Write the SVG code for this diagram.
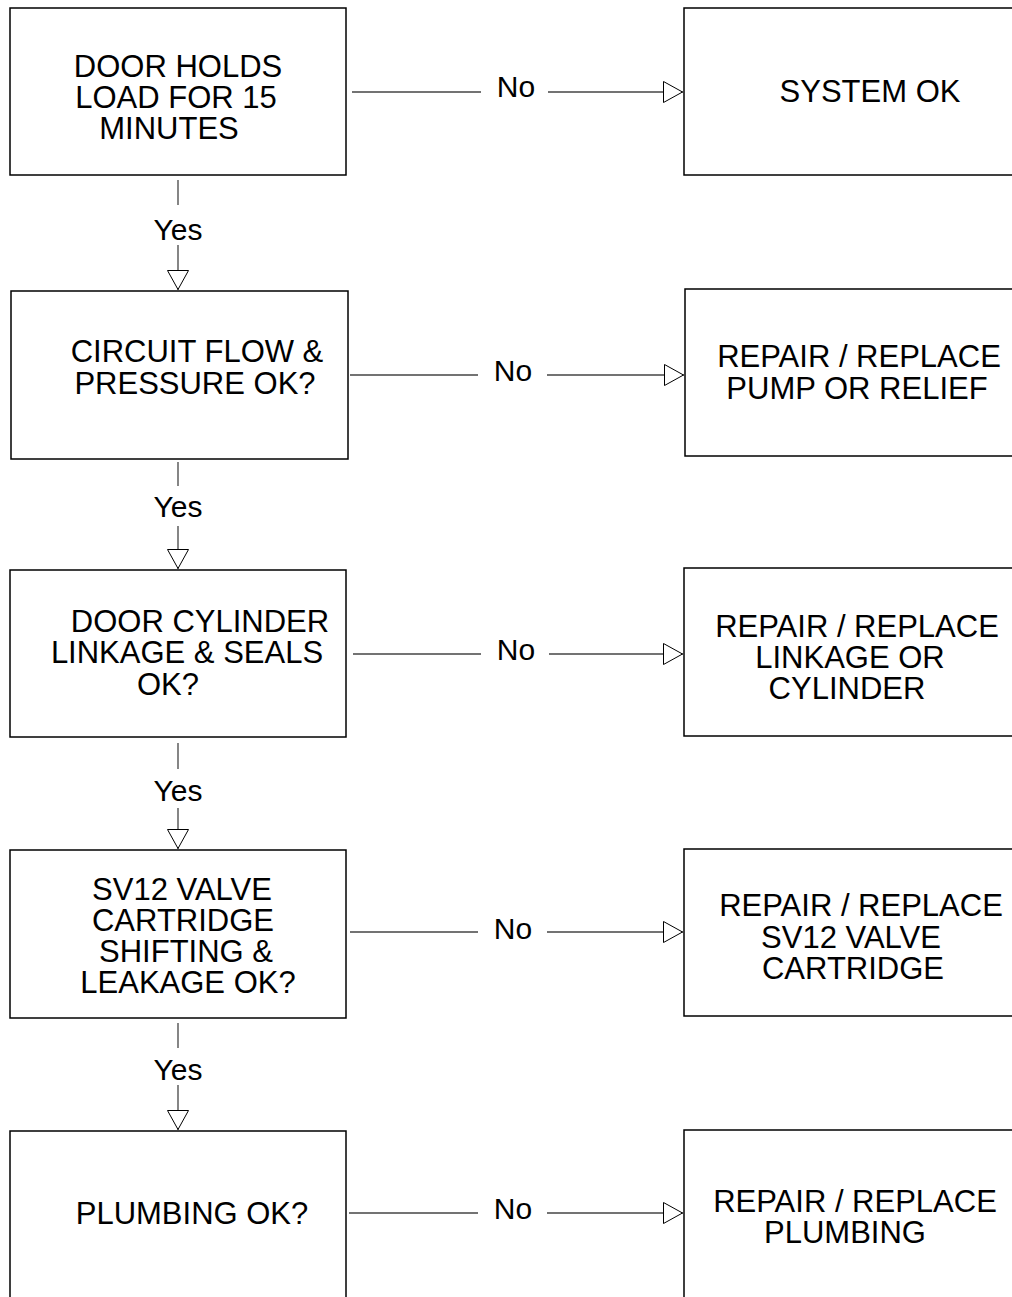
<svg xmlns="http://www.w3.org/2000/svg" width="1012" height="1297" viewBox="0 0 1012 1297">
<style>
.box{fill:#fff;stroke:#000;stroke-width:1.5}
.t{font-family:"Liberation Sans",Arial,sans-serif;font-size:31px;fill:#000;text-anchor:middle}
.lbl{font-family:"Liberation Sans",Arial,sans-serif;font-size:30px;fill:#000;text-anchor:middle}
.ln{stroke:#444;stroke-width:1.3;fill:none}
</style>
<defs>
<marker id="ah" viewBox="0 0 20 22" markerWidth="20" markerHeight="22" refX="20" refY="11" orient="auto" markerUnits="userSpaceOnUse">
<path d="M0.5,0.5 L19.5,11 L0.5,21.5 Z" fill="#fff" stroke="#000" stroke-width="1"/>
</marker>
</defs>
<rect width="1012" height="1297" fill="#fff"/>

<g id="n1">
<rect class="box" x="10" y="8" width="336" height="167"/>
<text class="t" x="178" y="77">DOOR HOLDS</text>
<text class="t" x="176" y="108">LOAD FOR 15</text>
<text class="t" x="169" y="139">MINUTES</text>
</g>
<g id="n2">
<rect class="box" x="11" y="291" width="337" height="168"/>
<text class="t" x="197" y="362">CIRCUIT FLOW &amp;</text>
<text class="t" x="195" y="394">PRESSURE OK?</text>
</g>
<g id="n3">
<rect class="box" x="10" y="570" width="336" height="167"/>
<text class="t" x="200" y="632">DOOR CYLINDER</text>
<text class="t" x="187" y="663">LINKAGE &amp; SEALS</text>
<text class="t" x="168" y="695">OK?</text>
</g>
<g id="n4">
<rect class="box" x="10" y="850" width="336" height="168"/>
<text class="t" x="182" y="900">SV12 VALVE</text>
<text class="t" x="183" y="931">CARTRIDGE</text>
<text class="t" x="186" y="962">SHIFTING &amp;</text>
<text class="t" x="188" y="993">LEAKAGE OK?</text>
</g>
<g id="n5">
<rect class="box" x="10" y="1131" width="336" height="200"/>
<text class="t" x="192" y="1224">PLUMBING OK?</text>
</g>

<g id="r1">
<rect class="box" x="684" y="8" width="360" height="167"/>
<text class="t" x="870" y="102">SYSTEM OK</text>
</g>
<g id="r2">
<rect class="box" x="685" y="289" width="360" height="167"/>
<text class="t" x="859" y="367">REPAIR / REPLACE</text>
<text class="t" x="857" y="399">PUMP OR RELIEF</text>
</g>
<g id="r3">
<rect class="box" x="684" y="568" width="360" height="168"/>
<text class="t" x="857" y="637">REPAIR / REPLACE</text>
<text class="t" x="850" y="668">LINKAGE OR</text>
<text class="t" x="847" y="699">CYLINDER</text>
</g>
<g id="r4">
<rect class="box" x="684" y="849" width="360" height="167"/>
<text class="t" x="861" y="916">REPAIR / REPLACE</text>
<text class="t" x="851" y="948">SV12 VALVE</text>
<text class="t" x="853" y="979">CARTRIDGE</text>
</g>
<g id="r5">
<rect class="box" x="684" y="1130" width="360" height="200"/>
<text class="t" x="855" y="1212">REPAIR / REPLACE</text>
<text class="t" x="845" y="1243">PLUMBING</text>
</g>

<g id="connectors">
<line class="ln" x1="352" y1="92" x2="481" y2="92"/>
<line class="ln" x1="548" y1="92" x2="683" y2="92" marker-end="url(#ah)"/>
<text class="lbl" x="516" y="97">No</text>

<line class="ln" x1="350" y1="375" x2="478" y2="375"/>
<line class="ln" x1="547" y1="375" x2="684" y2="375" marker-end="url(#ah)"/>
<text class="lbl" x="513" y="381">No</text>

<line class="ln" x1="353" y1="654" x2="481" y2="654"/>
<line class="ln" x1="549" y1="654" x2="683" y2="654" marker-end="url(#ah)"/>
<text class="lbl" x="516" y="660">No</text>

<line class="ln" x1="350" y1="932" x2="478" y2="932"/>
<line class="ln" x1="547" y1="932" x2="683" y2="932" marker-end="url(#ah)"/>
<text class="lbl" x="513" y="939">No</text>

<line class="ln" x1="349" y1="1213" x2="478" y2="1213"/>
<line class="ln" x1="547" y1="1213" x2="683" y2="1213" marker-end="url(#ah)"/>
<text class="lbl" x="513" y="1219">No</text>

<line class="ln" x1="178" y1="180" x2="178" y2="205"/>
<line class="ln" x1="178" y1="245" x2="178" y2="290" marker-end="url(#ah)"/>
<text class="lbl" x="178" y="240">Yes</text>

<line class="ln" x1="178" y1="462" x2="178" y2="486"/>
<line class="ln" x1="178" y1="526" x2="178" y2="569" marker-end="url(#ah)"/>
<text class="lbl" x="178" y="517">Yes</text>

<line class="ln" x1="178" y1="743" x2="178" y2="769"/>
<line class="ln" x1="178" y1="808" x2="178" y2="849" marker-end="url(#ah)"/>
<text class="lbl" x="178" y="801">Yes</text>

<line class="ln" x1="178" y1="1023" x2="178" y2="1048"/>
<line class="ln" x1="178" y1="1085" x2="178" y2="1130" marker-end="url(#ah)"/>
<text class="lbl" x="178" y="1080">Yes</text>
</g>
</svg>
